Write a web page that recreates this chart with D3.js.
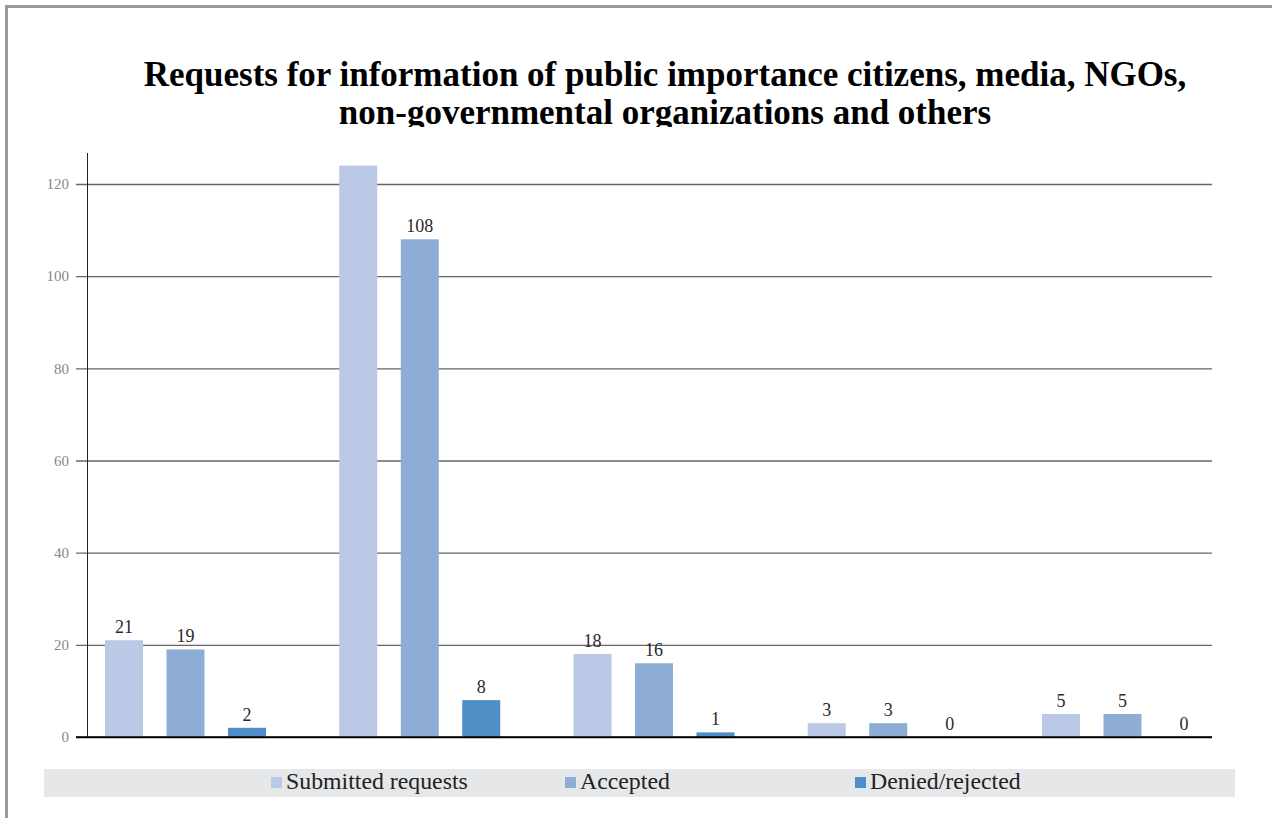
<!DOCTYPE html>
<html>
<head>
<meta charset="utf-8">
<script src="https://cdn.jsdelivr.net/npm/d3@7"></script>
<style>
  html, body { margin: 0; padding: 0; background: #fff; }
  svg { display: block; }
</style>
</head>
<body>
<svg id="chart" width="1272" height="818"></svg>
<script>
// Requesters, in the order of the title
const categories = ["citizens", "media", "NGOs", "non-governmental organizations", "others"];
const seriesNames = ["Submitted requests", "Accepted", "Denied/rejected"];
const submitted = [21, 124, 18, 3, 5];
const accepted = [19, 108, 16, 3, 5];
const denied = [2, 8, 1, 0, 0];
// value labels shown above each bar (null = not printed)
const submittedLabels = ["21", null, "18", "3", "5"];
const acceptedLabels = ["19", "108", "16", "3", "5"];
const deniedLabels = ["2", "8", "1", "0", "0"];
const yTicks = [0, 20, 40, 60, 80, 100, 120];
const colors = ["#bbc9e6", "#8eadd5", "#4f8fc8"];

const titleLines = [
  "Requests for information of public importance citizens, media, NGOs,",
  "non-governmental organizations and others"
];

const svg = d3.select("#chart");
const serif = "'Liberation Serif', 'Times New Roman', serif";

// outer frame
svg.append("rect").attr("x", 0).attr("y", 0).attr("width", 1272).attr("height", 818).attr("fill", "#fff");
svg.append("line").attr("x1", 5).attr("x2", 1272).attr("y1", 6.5).attr("y2", 6.5)
  .attr("stroke", "#9a9a9a").attr("stroke-width", 3);
svg.append("line").attr("x1", 6.5).attr("x2", 6.5).attr("y1", 5).attr("y2", 818)
  .attr("stroke", "#9a9a9a").attr("stroke-width", 3);

// title, clipped by the top of the plot area
svg.append("clipPath").attr("id", "titleClip")
  .append("rect").attr("x", 0).attr("y", 0).attr("width", 1272).attr("height", 127);
const title = svg.append("text")
  .attr("clip-path", "url(#titleClip)")
  .attr("text-anchor", "middle")
  .attr("font-family", serif)
  .attr("font-weight", "bold")
  .attr("font-size", 35)
  .attr("fill", "#000");
titleLines.forEach((t, i) => {
  title.append("tspan").attr("x", 665).attr("y", 86 + i * 38).text(t);
});

// scales
const y = d3.scaleLinear().domain([0, 120]).range([737, 184]);
const x0 = d3.scaleBand().domain(categories).range([68.5, 68.5 + 5 * 234.25]);
const x1 = d3.scaleBand().domain(seriesNames).range([36.5, 197.5]).paddingInner(0.382).paddingOuter(0);

// gridlines + tick labels
const yAxis = d3.axisLeft(y).tickValues(yTicks).tickSize(-(1212 - 76)).tickFormat(d3.format("d"));
const gAxis = svg.append("g").attr("transform", "translate(76,0)").call(yAxis);
gAxis.select(".domain").remove();
gAxis.selectAll(".tick line")
  .attr("stroke", d => d === 0 ? "#000" : "#666")
  .attr("stroke-width", 1.3);
gAxis.selectAll(".tick text")
  .attr("x", -7)
  .attr("font-family", serif)
  .attr("font-size", 15)
  .attr("fill", "#888");

// vertical axis line
svg.append("line").attr("x1", 87.5).attr("x2", 87.5).attr("y1", 153).attr("y2", 737)
  .attr("stroke", "#222").attr("stroke-width", 1);

// bars
const seriesValues = [submitted, accepted, denied];
const seriesLabels = [submittedLabels, acceptedLabels, deniedLabels];
const rows = [];
categories.forEach((c, ci) => {
  seriesNames.forEach((s, si) => {
    rows.push({ cat: c, series: s, si, value: seriesValues[si][ci], label: seriesLabels[si][ci] });
  });
});

const gBars = svg.append("g");
gBars.selectAll("rect").data(rows).join("rect")
  .attr("x", d => x0(d.cat) + x1(d.series))
  .attr("width", x1.bandwidth())
  .attr("y", d => y(d.value))
  .attr("height", d => y(0) - y(d.value))
  .attr("fill", d => colors[d.si]);

// redraw zero line on top of bars
svg.append("line").attr("x1", 76).attr("x2", 1212).attr("y1", y(0)).attr("y2", y(0))
  .attr("stroke", "#000").attr("stroke-width", 1.3);

gBars.selectAll("text").data(rows.filter(d => d.label !== null)).join("text")
  .attr("x", d => x0(d.cat) + x1(d.series) + x1.bandwidth() / 2)
  .attr("y", d => y(d.value) - 7)
  .attr("text-anchor", "middle")
  .attr("font-family", serif)
  .attr("font-size", 18)
  .attr("fill", "#2a2a2a")
  .text(d => d.label);

// legend band
svg.append("rect").attr("x", 44).attr("y", 769).attr("width", 1191).attr("height", 28).attr("fill", "#e6e7e8");
const legendX = [271, 565, 855];
const lg = svg.append("g").selectAll("g").data(seriesNames).join("g")
  .attr("transform", (d, i) => `translate(${legendX[i]},0)`);
lg.append("rect").attr("x", 0).attr("y", 777).attr("width", 11).attr("height", 11)
  .attr("fill", (d, i) => colors[i]);
lg.append("text").attr("x", 15).attr("y", 789)
  .attr("font-family", serif)
  .attr("font-size", 23.8)
  .attr("fill", "#222")
  .text(d => d);
</script>
</body>
</html>
